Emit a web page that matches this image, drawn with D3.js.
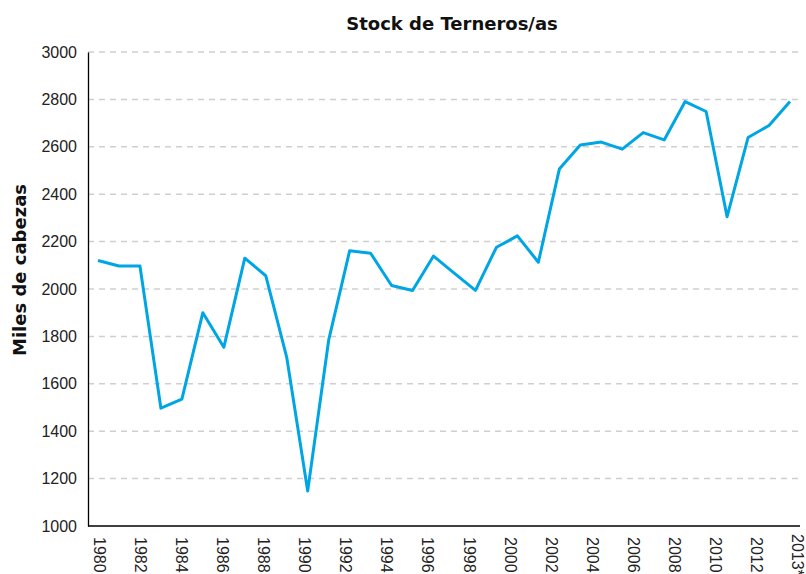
<!DOCTYPE html>
<html>
<head>
<meta charset="utf-8">
<script src="https://cdn.jsdelivr.net/npm/d3@7"></script>
<style>
  body { margin: 0; background: #fff; }
  svg { display: block; }
</style>
</head>
<body>
<svg id="chart" width="806" height="574"></svg>
<script>
// Chart data
const years = [1980, 1981, 1982, 1983, 1984, 1985, 1986, 1987, 1988, 1989,
    1990, 1991, 1992, 1993, 1994, 1995, 1996, 1997, 1998, 1999,
    2000, 2001, 2002, 2003, 2004, 2005, 2006, 2007, 2008, 2009,
    2010, 2011, 2012, 2013];
const terneros = [2120, 2097, 2097, 1497, 1535, 1900, 1754, 2130, 2056, 1712,
    1148, 1784, 2161, 2151, 2015, 1994, 2139, 2066, 1994, 2176,
    2224, 2113, 2506, 2608, 2620, 2590, 2660, 2629, 2791, 2749,
    2305, 2639, 2690, 2791];
const xTickLabels = ['1980', '1982', '1984', '1986', '1988', '1990', '1992', '1994', '1996',
    '1998', '2000', '2002', '2004', '2006', '2008', '2010', '2012', '2013*'];
const yTicks = [1000, 1200, 1400, 1600, 1800, 2000, 2200, 2400, 2600, 2800, 3000];

document.addEventListener('DOMContentLoaded', () => {
    const margin = { top: 52, right: 6, bottom: 48, left: 88 };
    const width = 806 - margin.left - margin.right;
    const height = 574 - margin.top - margin.bottom;

    const svg = d3.select('#chart')
        .append('g')
        .attr('transform', `translate(${margin.left},${margin.top})`);

    const data = years.map((y, i) => ({ year: y, value: terneros[i] }));

    // Scales
    const xScale = d3.scalePoint()
        .domain(years)
        .range([10, width - 10]);

    const xLabelScale = d3.scalePoint()
        .domain(xTickLabels)
        .range([11, width - 3]);

    const yScale = d3.scaleLinear()
        .domain([1000, 3000])
        .range([height, 0]);

    // Dashed gridlines
    svg.append('g')
        .attr('class', 'grid')
        .selectAll('line')
        .data(yTicks.filter(d => d > 1000))
        .enter()
        .append('line')
        .attr('x1', 0)
        .attr('x2', width)
        .attr('y1', d => yScale(d))
        .attr('y2', d => yScale(d))
        .attr('stroke', '#cfcfcf')
        .attr('stroke-width', 1.5)
        .attr('stroke-dasharray', '6,5');

    // Y axis
    const yAxis = svg.append('g')
        .attr('class', 'y-axis')
        .call(d3.axisLeft(yScale).tickValues(yTicks).tickSize(0).tickPadding(11).tickFormat(d3.format('d')));
    yAxis.select('.domain').attr('stroke', '#000').attr('stroke-width', 1.3);
    yAxis.selectAll('text')
        .style('font-family', '"Liberation Sans", Arial, sans-serif')
        .style('font-size', '16px')
        .attr('fill', '#222');

    // X axis
    const xAxis = svg.append('g')
        .attr('class', 'x-axis')
        .attr('transform', `translate(0,${height})`)
        .call(d3.axisBottom(xLabelScale).tickSize(0).tickPadding(0));
    xAxis.select('.domain')
        .attr('d', `M0,0H${width}`)
        .attr('stroke', '#000')
        .attr('stroke-width', 1.3);
    xAxis.selectAll('text')
        .attr('y', 0)
        .attr('x', 11)
        .attr('dy', null)
        .attr('transform', 'rotate(90)')
        .attr('dominant-baseline', 'central')
        .style('text-anchor', 'start')
        .style('font-family', '"Liberation Sans", Arial, sans-serif')
        .style('font-size', '16px')
        .attr('fill', '#222');
    xAxis.selectAll('text')
        .filter(d => d === '2013*')
        .attr('x', 8);

    // Line
    const line = d3.line()
        .x(d => xScale(d.year))
        .y(d => yScale(d.value));

    svg.append('path')
        .datum(data)
        .attr('fill', 'none')
        .attr('stroke', '#00a6e4')
        .attr('stroke-width', 3)
        .attr('stroke-linejoin', 'round')
        .attr('d', line);

    // Title
    d3.select('#chart').append('text')
        .attr('x', 452)
        .attr('y', 30)
        .style('text-anchor', 'middle')
        .style('font-family', '"DejaVu Sans", sans-serif')
        .style('font-weight', 'bold')
        .style('font-size', '18px')
        .attr('fill', '#111')
        .text('Stock de Terneros/as');

    // Y label
    d3.select('#chart').append('text')
        .attr('transform', 'rotate(-90)')
        .attr('x', -270)
        .attr('y', 26)
        .style('text-anchor', 'middle')
        .style('font-family', '"DejaVu Sans", sans-serif')
        .style('font-weight', 'bold')
        .style('font-size', '18px')
        .attr('fill', '#111')
        .text('Miles de cabezas');
});
</script>
</body>
</html>
